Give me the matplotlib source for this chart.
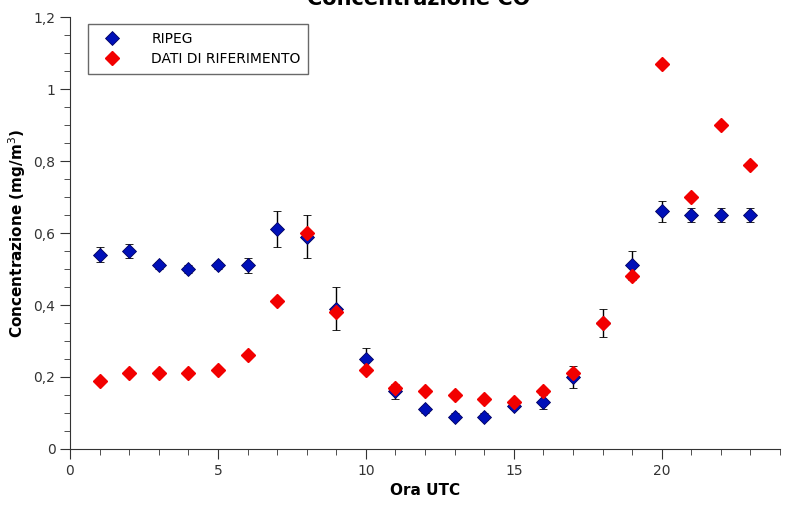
import matplotlib.pyplot as plt
from matplotlib.lines import Line2D
from matplotlib.ticker import MultipleLocator, FuncFormatter

# Hourly CO concentration
ore = list(range(1, 24))
ripeg = [0.54, 0.55, 0.51, 0.50, 0.51, 0.51, 0.61, 0.59, 0.39, 0.25, 0.16, 0.11,
         0.09, 0.09, 0.12, 0.13, 0.20, 0.35, 0.51, 0.66, 0.65, 0.65, 0.65]
ripeg_err = [0.02, 0.02, 0.01, 0.01, 0.01, 0.02, 0.05, 0.06, 0.06, 0.03, 0.02, 0.01,
             0.01, 0.01, 0.01, 0.02, 0.03, 0.04, 0.04, 0.03, 0.02, 0.02, 0.02]
riferimento = [0.19, 0.21, 0.21, 0.21, 0.22, 0.26, 0.41, 0.60, 0.38, 0.22, 0.17, 0.16,
               0.15, 0.14, 0.13, 0.16, 0.21, 0.35, 0.48, 1.07, 0.70, 0.90, 0.79]

plt.rcParams['font.family'] = ['DejaVu Sans']

blu = '#0010B8'
rosso = '#F20000'
ms = 7.3

fig = plt.figure(figsize=(7.89, 5.05), dpi=100)
ax = fig.add_axes([0.0887, 0.111, 0.90, 0.855])

ax.errorbar(ore, ripeg, yerr=ripeg_err, fmt='D', color=blu, markeredgecolor='#000060',
            markeredgewidth=0.6, markersize=ms, ecolor='black', elinewidth=1, capsize=3,
            zorder=3)
ax.plot(ore, riferimento, 'D', color=rosso, markeredgecolor=rosso, markersize=ms,
        linestyle='none', zorder=4)

ax.set_xlim(0, 24)
ax.set_ylim(0, 1.2)
for s in ['top', 'right']:
    ax.spines[s].set_visible(False)
ax.spines['left'].set_color('#333333')
ax.spines['bottom'].set_color('#333333')

ax.xaxis.set_major_locator(MultipleLocator(5))
ax.xaxis.set_minor_locator(MultipleLocator(1))
ax.yaxis.set_major_locator(MultipleLocator(0.2))
ax.yaxis.set_minor_locator(MultipleLocator(0.05))
ax.yaxis.set_major_formatter(FuncFormatter(lambda v, p: ('%g' % round(v, 2)).replace('.', ',')))
ax.tick_params(which='major', direction='out', length=7, color='#333333', labelsize=10,
               labelcolor='#333333')
ax.tick_params(which='minor', direction='out', length=4, color='#333333')

ax.set_xlabel('Ora UTC', fontsize=11, fontweight='bold')
ax.set_ylabel('Concentrazione (mg/m$^3$)', fontsize=11, fontweight='bold')

handles = [
    Line2D([], [], marker='D', linestyle='none', color=blu, markeredgecolor='#000060',
           markeredgewidth=0.6, markersize=ms),
    Line2D([], [], marker='D', linestyle='none', color=rosso, markersize=ms),
]
leg = ax.legend(handles, ['RIPEG', 'DATI DI RIFERIMENTO'], loc='upper left',
                bbox_to_anchor=(0.0254, 0.984), borderaxespad=0, fontsize=10, frameon=True,
                fancybox=False, edgecolor='#444444', borderpad=0.55, handletextpad=1.6,
                handlelength=2.4, labelspacing=0.45)
leg.get_frame().set_linewidth(1)

# title sits partly above the canvas, as in the original
fig.text(0.53, 0.991, 'Concentrazione CO', ha='center', va='baseline', fontsize=15,
         fontweight='bold')

fig.savefig('out.png', dpi=100)
